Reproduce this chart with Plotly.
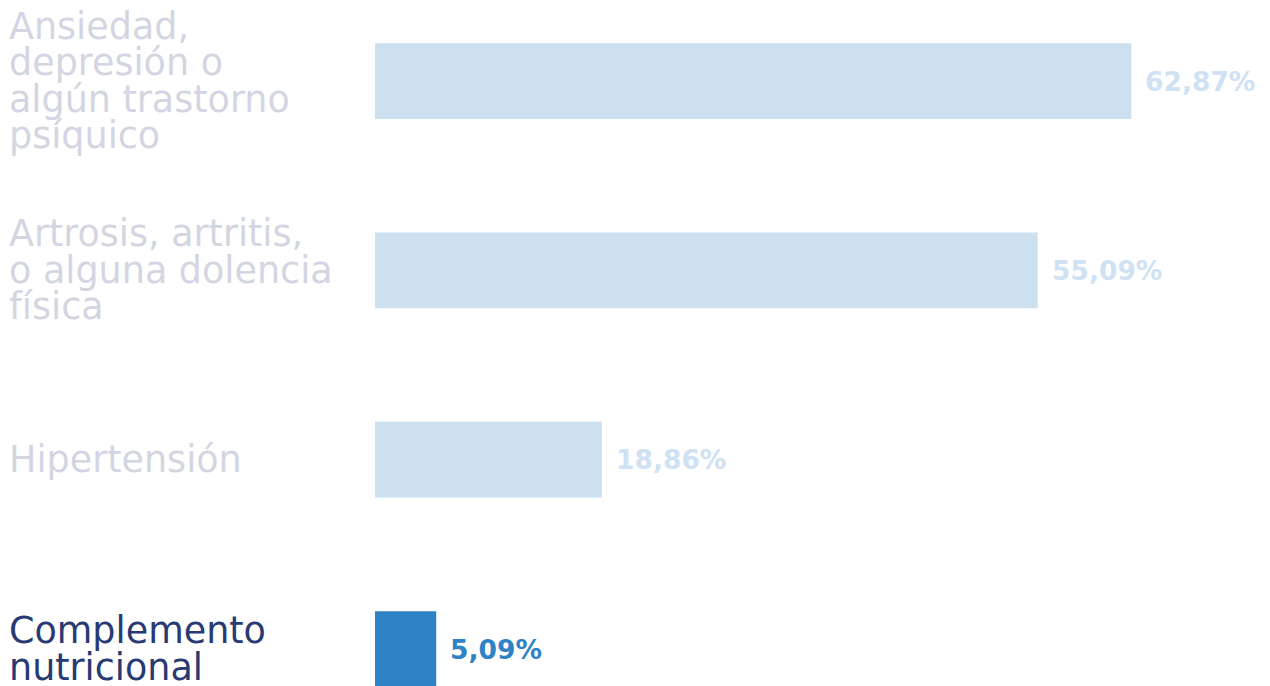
import plotly.graph_objects as go

# Categories (each entry is a list of label lines) and their percentages
label_lines = [
    ["Ansiedad,", "depresión o", "algún trastorno", "psíquico"],
    ["Artrosis, artritis,", "o alguna dolencia", "física"],
    ["Hipertensión"],
    ["Complemento", "nutricional"],
]
categories = ["Ansiedad", "Artrosis", "Hipertensión", "Complemento"]
values = [62.87, 55.09, 18.86, 5.09]
value_labels = ["62,87%", "55,09%", "18,86%", "5,09%"]

bar_colors = ["#cce0f0", "#cce0f0", "#cce0f0", "#2e83c6"]
value_colors = ["#cfe2f3", "#cfe2f3", "#cfe2f3", "#2e83c6"]
label_colors = ["#d3d6e2", "#d3d6e2", "#d3d6e2", "#283a73"]

W, H = 1270, 686
L = 375
X_MAX = 74.4
LINE_GAP = 36.5
FONT = "DejaVu Sans"

fig = go.Figure(
    go.Bar(
        x=values,
        y=categories,
        orientation="h",
        marker=dict(color=bar_colors, line=dict(width=0)),
        width=0.4,
        hoverinfo="skip",
    )
)

annotations = []
for cat, lines, col in zip(categories, label_lines, label_colors):
    n = len(lines)
    for i, line in enumerate(lines):
        annotations.append(dict(
            x=(7 - L) / (W - L), xref="paper",
            y=cat, yref="y",
            text=line, showarrow=False,
            xanchor="left", yanchor="middle",
            yshift=-(i - (n - 1) / 2) * LINE_GAP,
            font=dict(family=FONT, size=36.5, color=col),
        ))

for cat, v, txt, col in zip(categories, values, value_labels, value_colors):
    annotations.append(dict(
        x=v, xref="x", y=cat, yref="y",
        text=f"<b>{txt}</b>", showarrow=False,
        xanchor="left", yanchor="middle", xshift=12,
        font=dict(family=FONT, size=26.5, color=col),
    ))

fig.update_layout(
    width=W, height=H,
    margin=dict(l=L, r=0, t=0, b=0),
    paper_bgcolor="white", plot_bgcolor="white",
    showlegend=False,
    xaxis=dict(range=[0, X_MAX], visible=False, fixedrange=True),
    yaxis=dict(range=[3.195, -0.428], visible=False, fixedrange=True,
               categoryorder="array", categoryarray=categories),
    annotations=annotations,
)

fig.write_html("out.html", config={"displayModeBar": False})
